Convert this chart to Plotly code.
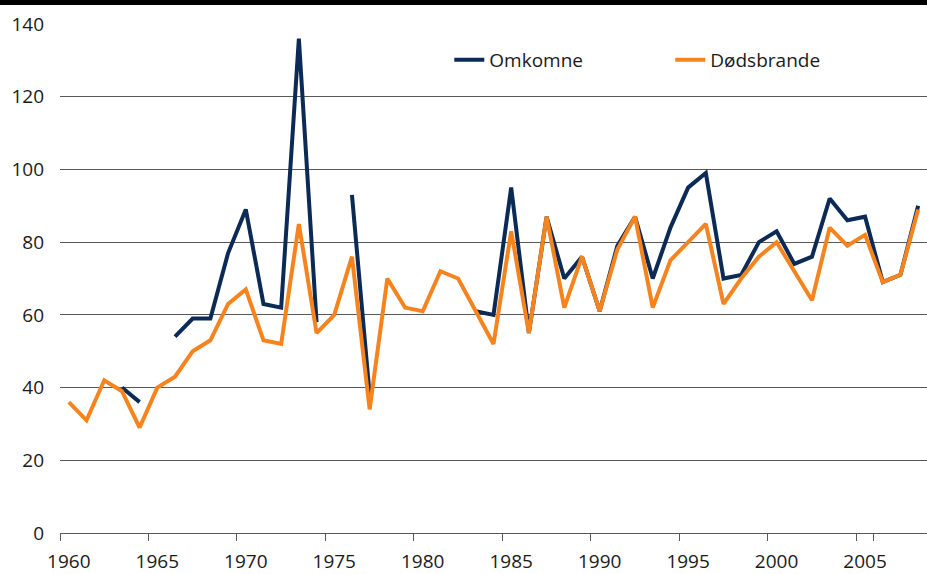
import plotly.graph_objects as go

years = [str(y) for y in range(1960, 2009)]

dodsbrande = [36, 31, 42, 39, 29, 40, 43, 50, 53, 63,
              67, 53, 52, 85, 55, 60, 76, 34, 70, 62,
              61, 72, 70, 61, 52, 83, 55, 87, 62, 76,
              61, 78, 87, 62, 75, 80, 85, 63, 70, 76,
              80, 72, 64, 84, 79, 82, 69, 71, 89]

omkomne = [None, None, None, 40, 36, None, 54, 59, 59, 77,
           89, 63, 62, 136, 58, None, 93, 38, None, None,
           None, None, None, 61, 60, 95, 55, 87, 70, 76,
           61, 79, 87, 70, 84, 95, 99, 70, 71, 80,
           83, 74, 76, 92, 86, 87, 69, 71, 90]

tick_labels = ["1960", "1965", "1970", "1975", "1980", "1985", "1990", "1995", "2000", "2005"]
y_ticks = [0, 20, 40, 60, 80, 100, 120, 140]

NAVY = "#0B2A55"
ORANGE = "#F5841F"
GRID = "#595959"
FONT = "Open Sans"

fig = go.Figure()
fig.add_trace(go.Scatter(x=years, y=omkomne, mode="lines", name="Omkomne",
                         line=dict(color=NAVY, width=4), connectgaps=False))
fig.add_trace(go.Scatter(x=years, y=dodsbrande, mode="lines", name="Dødsbrande",
                         line=dict(color=ORANGE, width=4), connectgaps=False))

W, H = 927, 574
ml, mr, mt, mb = 60, 0, 24, 41
ph = H - mt - mb
pw = W - ml - mr

fig.update_layout(
    width=W, height=H,
    margin=dict(l=ml, r=mr, t=mt, b=mb, pad=0, autoexpand=False),
    paper_bgcolor="white", plot_bgcolor="white",
    font=dict(family=FONT, size=19, color="#1a1a1a"),
    showlegend=True,
    legend=dict(orientation="h", x=0.449, xanchor="left", y=1 - (60 - mt) / ph, yanchor="middle",
                font=dict(family=FONT, size=19, color="#1a1a1a"),
                entrywidth=176, entrywidthmode="pixels", bgcolor="rgba(0,0,0,0)",
                itemwidth=30),
    xaxis=dict(type="category", categoryorder="array", categoryarray=years,
               range=[-0.5, len(years) - 0.5], automargin=False,
               tickmode="array", tickvals=tick_labels, ticktext=tick_labels, tickangle=0,
               tickson="boundaries", ticks="outside", ticklen=7, tickcolor=GRID, tickwidth=1,
               ticklabelstandoff=11,
               showgrid=False, showline=True, linecolor=GRID, linewidth=1,
               zeroline=False, fixedrange=True,
               tickfont=dict(family=FONT, size=19, color="#1a1a1a")),
    yaxis=dict(range=[0, 140], tickmode="array", tickvals=y_ticks, automargin=False,
               showgrid=True, gridcolor=GRID, gridwidth=1,
               zeroline=False, showline=False, ticks="",
               ticklabelstandoff=15, fixedrange=True,
               tickfont=dict(family=FONT, size=19, color="#1a1a1a")),
    shapes=[dict(type="rect", xref="paper", yref="paper",
                 x0=-ml / pw, x1=1.0, y0=1 + (mt - 5) / ph, y1=1 + mt / ph,
                 fillcolor="black", line=dict(width=0), layer="above")],
)

fig.write_html("out.html", config={"displayModeBar": False},
               post_script="document.body.style.margin='0';document.body.style.overflow='hidden';")
